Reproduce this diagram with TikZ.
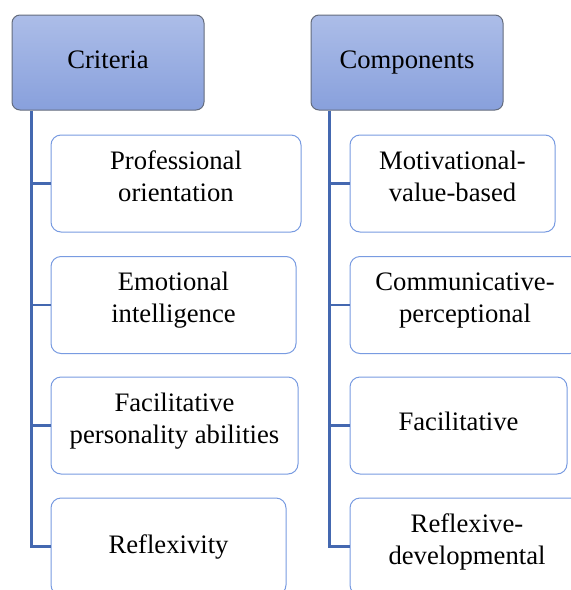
\documentclass[tikz,border=0pt]{standalone}
\usepackage{fontspec}
\setmainfont{Liberation Serif}
\usepackage{tikz}
\usetikzlibrary{positioning}
\tikzset{every picture/.style={line width=0.75pt}}
\definecolor{headtop}{RGB}{172,189,232}
\definecolor{headbot}{RGB}{136,160,220}
\definecolor{headline}{RGB}{100,108,125}
\definecolor{boxline}{RGB}{120,155,225}
\definecolor{trunkblue}{RGB}{68,104,176}
\tikzset{
  headbox/.style={draw=headline, line width=0.75pt, rounded corners=6pt, top color=headtop, bottom color=headbot,
    minimum width=144pt, minimum height=71.25pt, inner sep=0pt, text height=14pt, text depth=5pt,
    font=\fontsize{20}{24}\selectfont},
  itembox/.style={draw=boxline, line width=0.75pt, fill=white, rounded corners=7.5pt,
    minimum height=72.75pt, inner sep=0pt, align=center, font=\fontsize{20}{24}\selectfont},
  twoline/.style={execute at end node={\rule[-11pt]{0pt}{0pt}}},
  trunk/.style={draw=trunkblue, line width=1.6pt}
}

\begin{document}
\begin{tikzpicture}[x=0.75pt,y=0.75pt,yscale=-1,xscale=1]
\useasboundingbox (0,0) rectangle (571,590);
\clip (0,0) rectangle (571,590);

% Header Nodes
\node [headbox] (crit) at (108,62.5) {Criteria};
\node [headbox] (comp) at (407,62.5) {Components};

% Criteria column
\node [itembox, twoline, minimum width=187.5pt] (cr1) at (176,183.5) {Professional\\orientation};
\node [itembox, twoline, minimum width=183.75pt] (cr2) at (173.5,305) {Emotional\\intelligence};
\node [itembox, twoline, minimum width=185.25pt] (cr3) at (174.5,425.5) {Facilitative\\personality abilities};
\node [itembox, minimum width=176.25pt] (cr4) at (168.5,546.5) {Reflexivity};

% Components column
\node [itembox, twoline, minimum width=153.75pt] (cp1) at (452.5,183.5) {Motivational-\\value-based};
\node [itembox, twoline, minimum width=172.5pt] (cp2) at (465,305) {Communicative-\\perceptional};
\node [itembox, minimum width=162.75pt, text height=14pt, text depth=7pt] (cp3) at (458.5,425.5) {Facilitative};
\node [itembox, twoline, minimum width=175.5pt] (cp4) at (467,546.5) {Reflexive-\\developmental};

% Connectors
\coordinate (crtrunk) at ([xshift=15pt]crit.south west);
\coordinate (cptrunk) at ([xshift=14.25pt]comp.south west);
\draw [trunk] (crtrunk) |- (cr4.west);
\foreach \n in {1,2,3}
  \draw [trunk] (cr\n.west) -- (cr\n.west -| crtrunk);
\draw [trunk] (cptrunk) |- (cp4.west);
\foreach \n in {1,2,3}
  \draw [trunk] (cp\n.west) -- (cp\n.west -| cptrunk);

\end{tikzpicture}
\end{document}
